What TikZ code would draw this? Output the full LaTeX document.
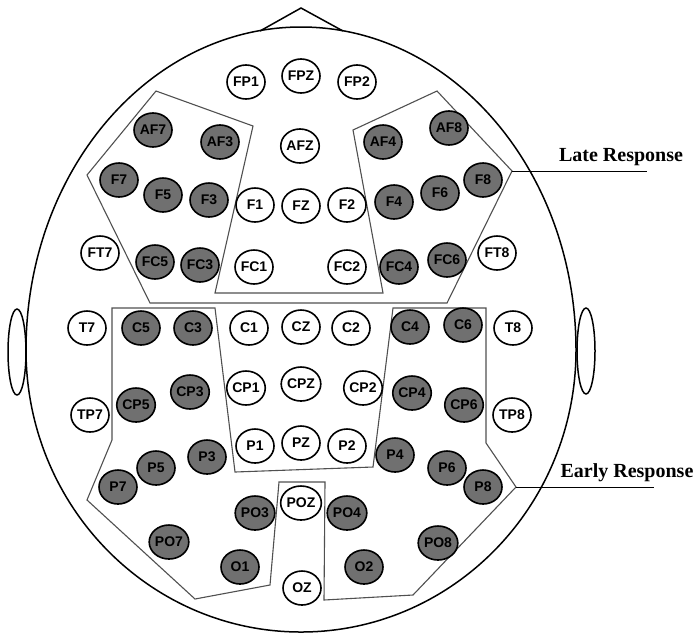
\documentclass[tikz,border=0pt]{standalone}
\usepackage{fontspec}
\newfontfamily\elecfont{Liberation Sans}
\newfontfamily\respfont{Liberation Serif}
\usetikzlibrary{shapes.geometric}
\definecolor{elecgray}{RGB}{112,112,112}
\definecolor{zonegray}{RGB}{80,80,80}
\tikzset{
  electrode/.style={ellipse, draw, line width=1.6pt, minimum width=38pt, minimum height=34pt,
    inner sep=0pt, font=\elecfont\bfseries\fontsize{14}{14}\selectfont},
  active/.style={electrode, fill=elecgray},
  zone/.style={draw=zonegray, line width=1.1pt},
  response/.style={font=\respfont\bfseries\fontsize{20}{20}\selectfont, inner sep=0pt}
}
\begin{document}
\begin{tikzpicture}[x=1pt, y=-1pt]
    \useasboundingbox (0,0) rectangle (700,641);
    % Head, nose and ears
    \draw[line width=1.5pt] (26,350) arc[start angle=180, end angle=360, x radius=275, y radius=323]
        arc[start angle=0, end angle=180, x radius=275, y radius=282];
    \draw[line width=1.5pt] (260,31) -- (301,8) -- (343,31);
    \draw[line width=1.5pt] (17,352) ellipse[x radius=9, y radius=43];
    \draw[line width=1.5pt] (586,351) ellipse[x radius=9, y radius=43];
    % Late response zone
    \draw[zone] (156,91) -- (253,126) -- (215,293) -- (383,293) -- (353,130) -- (437,91)
        -- (512,171) -- (447,303) -- (150,303) -- (87,175) -- cycle;
    % Early response zone
    \draw[zone] (112,308) -- (215,308) -- (235,472) -- (373,467) -- (393,308) -- (486,308)
        -- (486,443) -- (516,487) -- (413,595) -- (324,600) -- (325,482) -- (279,482)
        -- (270,585) -- (195,599) -- (87,500) -- (112,440) -- cycle;
    % Open electrodes
    \foreach \n/\x/\y in {FP1/246/82, FPZ/301/76, FP2/357/82, AFZ/300/146,
        F1/255/205, FZ/301/206, F2/347/205, FC1/254/267, FC2/347/267,
        FT7/100/253, FT8/497/253, T7/87/328, C1/249/328, CZ/301/327, C2/351/328, T8/513/328,
        TP7/90/415, CP1/246/388, CPZ/301/384, CP2/363/388, TP8/512/415,
        P1/255/446, PZ/301/443, P2/347/446, POZ/301/503, OZ/302/588}
        \node[electrode] (\n) at (\x,\y) {\n};
    % Shaded electrodes
    \foreach \n/\x/\y in {AF7/153/130, AF3/220/142, AF4/383/142, AF8/449/128,
        F7/119/180, F5/163/195, F3/209/200, F4/394/202, F6/440/193, F8/483/180,
        FC5/155/262, FC3/200/265, FC4/399/267, FC6/447/260,
        C5/141/328, C3/193/328, C4/410/327, C6/463/325,
        CP5/136/405, CP3/190/392, CP4/412/393, CP6/464/405,
        P7/118/487, P5/156/468, P3/207/457, P4/395/455, P6/447/468, P8/483/487,
        PO7/169/542, PO3/255/513, PO4/347/513, PO8/438/543, O1/240/567, O2/364/567}
        \node[active] (\n) at (\x,\y) {\n};
    % Response labels
    \coordinate (lateTip) at (512,171);
    \coordinate (lateEnd) at (647,171);
    \node[response] (lateLbl) at (621,157) {Late Response};
    \draw (lateTip) -- (lateEnd);
    \coordinate (earlyTip) at (516,487);
    \coordinate (earlyEnd) at (654,487);
    \node[response] (earlyLbl) at (627,473) {Early Response};
    \draw (earlyTip) -- (earlyEnd);
\end{tikzpicture}
\end{document}
